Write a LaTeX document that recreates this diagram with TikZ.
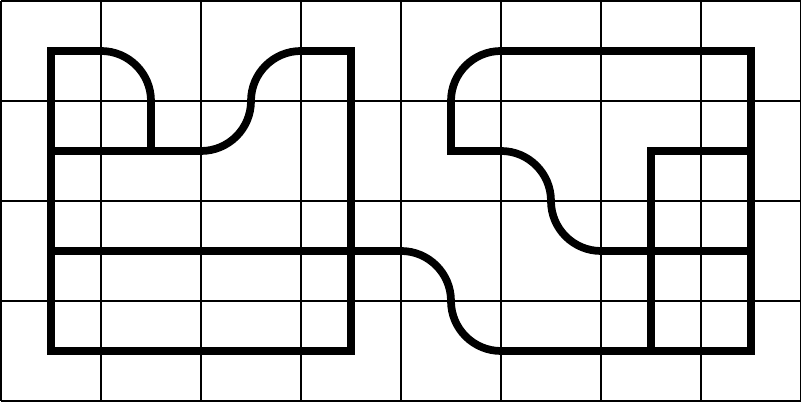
\documentclass[tikz,border=0pt]{standalone}
\usepackage{tikz}
\begin{document}
\begin{tikzpicture}[x=1cm,y=1cm,
    gridline/.style={line width=0.3pt},
    wall/.style={line width=2.2pt,line join=miter}]
  \useasboundingbox (-0.01,-0.01) rectangle (8.01,4.01);
  \draw[gridline] (0,0) grid (8,4);

  % left block
  \draw[wall] (1,3.5)--(0.5,3.5)--(0.5,0.5)--(3.5,0.5)--(3.5,3.5)--(3,3.5)
    arc (90:180:0.5) arc (0:-90:0.5) --(0.5,2.5);
  \draw[wall] (1,3.5) arc (90:0:0.5) --(1.5,2.5);

  % middle line and right block
  \draw[wall] (0.5,1.5)--(4,1.5) arc (90:0:0.5) arc (180:270:0.5)--(7.5,0.5)
    --(7.5,3.5)--(5,3.5) arc (90:180:0.5)--(4.5,2.5)--(5,2.5)
    arc (90:0:0.5) arc (180:270:0.5)--(7.5,1.5);
  \draw[wall] (6.5,0.5)--(6.5,2.5)--(7.5,2.5);
\end{tikzpicture}
\end{document}
